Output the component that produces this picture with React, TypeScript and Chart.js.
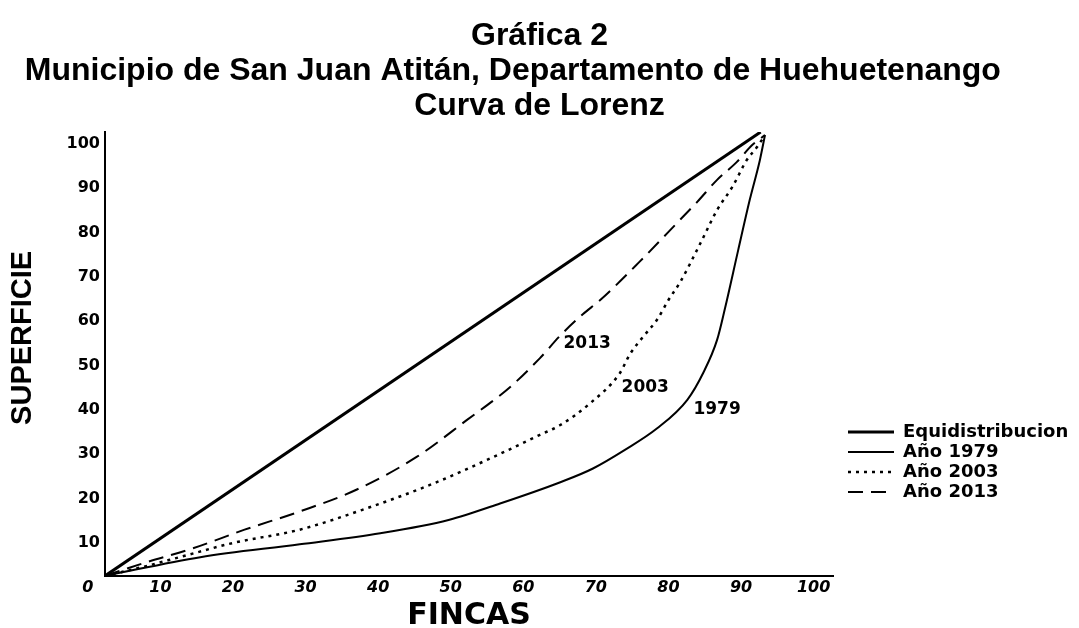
import React, { useEffect, useRef } from 'react';
import { Chart, registerables } from 'chart.js';

Chart.register(...registerables);

// ---- data ----
const TITLE_LINES = [
  'Gráfica 2',
  'Municipio de San Juan Atitán, Departamento de Huehuetenango      ',
  'Curva de Lorenz',
];
const X_TITLE = 'FINCAS';
const Y_TITLE = '    SUPERFICIE';
const X_TICKS = [0, 10, 20, 30, 40, 50, 60, 70, 80, 90, 100];
const Y_TICKS = [10, 20, 30, 40, 50, 60, 70, 80, 90, 100];
const X_MIN = 2.37;
const X_MAX = 102.67;
const Y_MIN = 2.55;
const Y_MAX = 102.7;

const SERIES_LABELS = ['Equidistribucion', 'Año 1979', 'Año 2003', 'Año 2013'];

const EQUI: [number, number][] = [
  [2.4, 2.6],
  [92.7, 102.7],
];
const Y1979: [number, number][] = [
  [2.4, 2.6], [15.5, 6.8], [29.2, 9.7], [40.3, 12.2], [49.7, 15.2], [56.8, 18.9],
  [65.1, 23.7], [69.6, 26.8], [74.0, 31.0], [78.4, 35.8], [82.6, 42.3], [84.8, 48.4],
  [86.7, 55.8], [87.8, 63.0], [89.6, 76.0], [91.2, 87.4], [92.6, 96.4], [93.3, 102.0],
];
const Y2003: [number, number][] = [
  [2.4, 2.6], [7.6, 4.6], [13.1, 7.0], [20.0, 10.0], [29.2, 13.0], [38.4, 17.8],
  [47.6, 23.4], [56.8, 30.1], [62.3, 34.4], [65.1, 36.6], [69.2, 41.5], [73.3, 48.3],
  [74.7, 52.6], [76.5, 56.5], [78.4, 60.3], [80.0, 64.8], [81.6, 68.8], [84.4, 77.6],
  [86.7, 85.1], [88.8, 90.3], [90.8, 96.4], [92.2, 99.3], [93.3, 102.0],
];
const Y2013: [number, number][] = [
  [2.4, 2.6], [8.0, 5.6], [14.5, 8.8], [21.6, 13.0], [29.2, 17.1], [37.0, 22.0],
  [45.3, 29.4], [52.2, 37.7], [58.2, 45.2], [62.3, 51.7], [65.1, 56.8], [68.2, 61.6],
  [70.6, 64.8], [76.0, 73.4], [81.6, 82.9], [84.0, 87.0], [86.7, 91.9], [89.4, 95.9],
  [91.5, 99.7], [93.3, 102.0],
];
const CURVE_LABELS = [
  { text: '2013', x: 68.8, y: 55.0 },
  { text: '2003', x: 76.8, y: 45.0 },
  { text: '1979', x: 86.7, y: 40.1 },
];

const toPts = (arr: [number, number][]) => arr.map(([x, y]) => ({ x, y }));

const curveLabelPlugin = {
  id: 'curveLabels',
  afterDatasetsDraw(chart: any) {
    const { ctx, scales } = chart;
    ctx.save();
    ctx.font = 'bold 17px "DejaVu Sans"';
    ctx.fillStyle = '#000';
    ctx.textAlign = 'center';
    ctx.textBaseline = 'middle';
    CURVE_LABELS.forEach((l) => {
      ctx.fillText(l.text, scales.x.getPixelForValue(l.x), scales.y.getPixelForValue(l.y));
    });
    ctx.restore();
  },
};

const legendWidthPlugin = {
  id: 'legendWidth',
  beforeLayout(chart: any) {
    const lg = chart.legend;
    if (lg && !lg.__patched) {
      const fit = lg.fit.bind(lg);
      lg.fit = function () {
        fit();
        this.width = 233;
      };
      lg.__patched = true;
    }
  },
};

export default function App() {
  const ref = useRef<HTMLCanvasElement | null>(null);

  useEffect(() => {
    if (!ref.current) return;
    const black = '#000';
    const chart = new Chart(ref.current, {
      type: 'line',
      data: {
        datasets: [
          { label: SERIES_LABELS[0], data: toPts(EQUI), borderColor: black, borderWidth: 3, tension: 0 },
          { label: SERIES_LABELS[1], data: toPts(Y1979), borderColor: black, borderWidth: 2, cubicInterpolationMode: 'monotone' },
          { label: SERIES_LABELS[2], data: toPts(Y2003), borderColor: black, borderWidth: 2.5, borderDash: [3, 5], cubicInterpolationMode: 'monotone' },
          { label: SERIES_LABELS[3], data: toPts(Y2013), borderColor: black, borderWidth: 2, borderDash: [15, 8], cubicInterpolationMode: 'monotone' },
        ] as any,
      },
      options: {
        animation: false,
        responsive: false,
        devicePixelRatio: 1,
        parsing: false as any,
        elements: { point: { radius: 0, hoverRadius: 0 } },
        layout: { padding: 0 },
        scales: {
          x: {
            type: 'linear',
            min: X_MIN,
            max: X_MAX,
            afterBuildTicks: (s: any) => { s.ticks = X_TICKS.map((v) => ({ value: v })); },
            afterFit: (s: any) => { s.height = 52; },
            grid: { display: false, drawTicks: false },
            border: { display: true, color: black, width: 2 },
            ticks: {
              autoSkip: false,
              maxRotation: 0,
              padding: 2,
              color: black,
              font: { family: '"DejaVu Sans"', size: 16, weight: 'bold', style: 'italic' },
              callback: (v: any) => String(v),
            },
            title: {
              display: true,
              text: X_TITLE,
              color: black,
              font: { family: '"DejaVu Sans"', size: 30, weight: 'bold', lineHeight: 0.8 },
              padding: { top: 4, bottom: 0 },
            },
          },
          y: {
            type: 'linear',
            min: Y_MIN,
            max: Y_MAX,
            afterBuildTicks: (s: any) => { s.ticks = Y_TICKS.map((v) => ({ value: v })); },
            afterFit: (s: any) => { s.width = 105; },
            grid: { display: false, drawTicks: false },
            border: { display: true, color: black, width: 2 },
            ticks: {
              autoSkip: false,
              padding: 5,
              color: black,
              font: { family: '"DejaVu Sans"', size: 16, weight: 'bold' },
              callback: (v: any) => String(v),
            },
            title: {
              display: true,
              text: Y_TITLE,
              color: black,
              font: { family: '"Liberation Sans"', size: 29, weight: 'bold', lineHeight: 1 },
              padding: { top: 8, bottom: 20 },
            },
          },
          pad: {
            type: 'linear',
            position: 'right',
            display: true,
            grid: { display: false, drawTicks: false },
            border: { display: false },
            ticks: { display: false },
            afterFit: (s: any) => { s.width = 13; },
          },
        } as any,
        plugins: {
          title: {
            display: true,
            text: TITLE_LINES,
            color: black,
            font: { family: '"Liberation Sans"', size: 32, weight: 'bold', lineHeight: 35 / 32 },
            padding: { top: 19, bottom: 8 },
          },
          legend: {
            display: true,
            position: 'right',
            align: 'center',
            title: { display: true, text: '', font: { size: 10, lineHeight: 1 }, padding: { top: 286, bottom: 0 } },
            labels: {
              usePointStyle: true,
              pointStyleWidth: 46,
              padding: 2,
              color: black,
              font: { family: '"DejaVu Sans"', size: 18, weight: 'bold' },
              generateLabels: (c: any) =>
                c.data.datasets.map((ds: any, i: number) => ({
                  text: ds.label,
                  strokeStyle: ds.borderColor,
                  fillStyle: 'rgba(0,0,0,0)',
                  lineWidth: ds.borderWidth,
                  lineDash: ds.borderDash || [],
                  pointStyle: 'line',
                  hidden: false,
                  datasetIndex: i,
                  fontColor: black,
                })),
            },
          },
          tooltip: { enabled: false },
        } as any,
      },
      plugins: [curveLabelPlugin, legendWidthPlugin],
    });
    return () => chart.destroy();
  }, []);

  return (
    <div style={{ position: 'fixed', left: 0, top: 0, width: 1079, height: 628, background: '#fff' }}>
      <canvas ref={ref} width={1079} height={628} />
    </div>
  );
}
